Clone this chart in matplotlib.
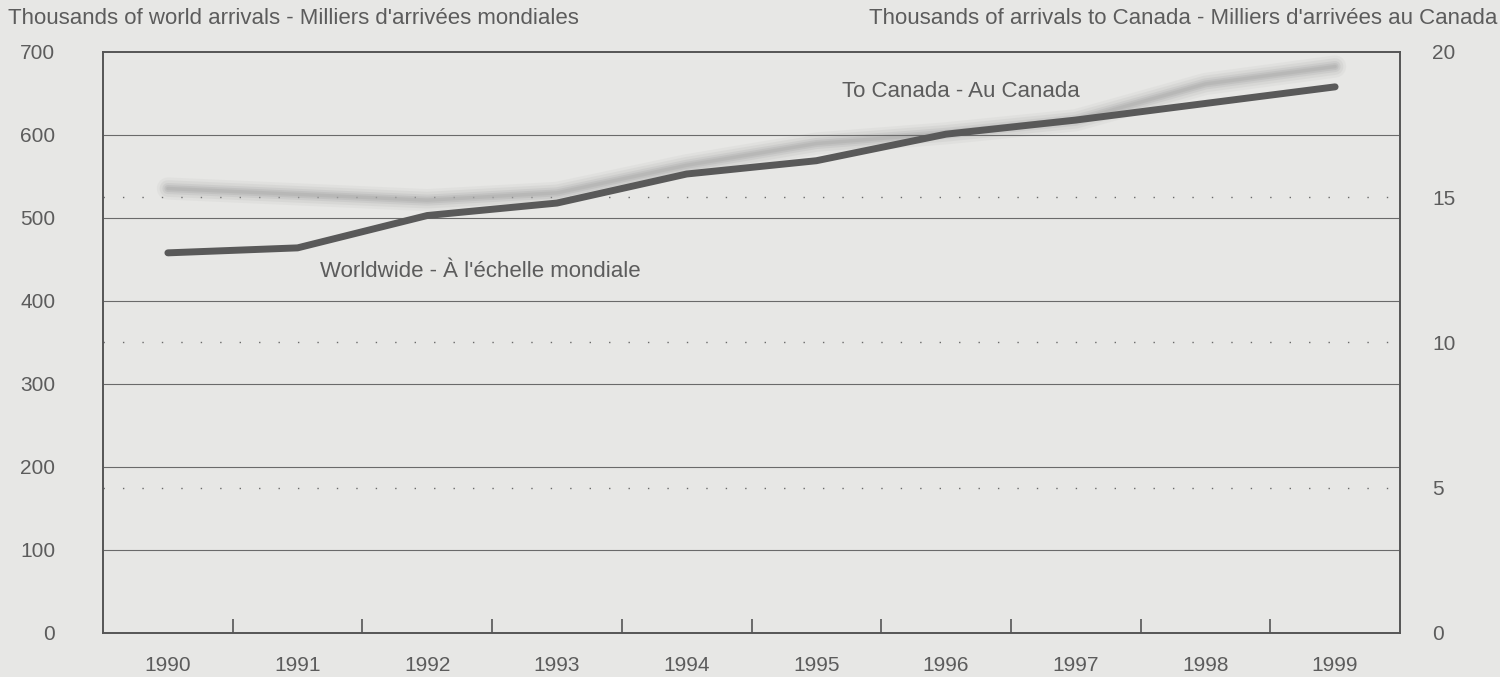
import matplotlib
matplotlib.use("Agg")
import matplotlib.pyplot as plt
import numpy as np

years = ["1990", "1991", "1992", "1993", "1994", "1995", "1996", "1997", "1998", "1999"]
world_arrivals = [458, 464, 503, 518, 553, 569, 601, 618, 638, 658]
canada_arrivals = [15.3, 15.1, 14.9, 15.15, 16.1, 16.85, 17.2, 17.65, 18.9, 19.5]

left_label = "Thousands of world arrivals - Milliers d'arrivées mondiales"
right_label = "Thousands of arrivals to Canada - Milliers d'arrivées au Canada"
world_name = "Worldwide - À l'échelle mondiale"
canada_name = "To Canada - Au Canada"

BG = "#e7e7e5"
TXT = "#5c5c5c"
TICK_FS = 15
TEXT_FS = 16
plt.rcParams["font.family"] = ["Liberation Sans", "DejaVu Sans"]

fig = plt.figure(figsize=(15, 6.77), dpi=100, facecolor=BG)
ax = fig.add_axes([0.0687, 0.065, 0.8646, 0.8582])
ax2 = ax.twinx()
ax.set_zorder(ax2.get_zorder() + 1)
ax.patch.set_visible(False)
ax2.patch.set_facecolor(BG)

x = np.arange(len(years))
ax.set_xlim(-0.5, len(years) - 0.5)
ax.set_ylim(0, 700)
ax2.set_ylim(0, 20)

# gridlines
ax.set_yticks(np.arange(0, 701, 100))
ax.set_yticklabels([str(v) for v in range(0, 701, 100)])
for v in range(100, 700, 100):
    ax.axhline(v, color="#6a6a6a", lw=0.8, zorder=1)
ax2.set_yticks([0, 5, 10, 15, 20])
ax2.set_yticklabels(["0", "5", "10", "15", "20"])
for v in [5, 10, 15]:
    ax2.axhline(v, color="#6a6a6a", lw=1.0, linestyle=(0, (1, 13)), zorder=1)

# light blurred Canada line
for w, a in [(16, 0.10), (12, 0.15), (8, 0.22), (5, 0.3), (2.5, 0.35)]:
    ax2.plot(x, canada_arrivals, color="#a8a8a8", lw=w, alpha=a,
             solid_capstyle="round", solid_joinstyle="round", zorder=2)

# dark world line
ax.plot(x, world_arrivals, color="#595959", lw=5,
        solid_capstyle="round", solid_joinstyle="round", zorder=3)

# axes styling
for a_ in (ax, ax2):
    for s in a_.spines.values():
        s.set_color("#555555")
        s.set_linewidth(1.2)
ax.set_xticks(x)
ax.set_xticklabels(years)
ax.set_xticks(np.arange(0.5, len(years) - 1, 1.0), minor=True)
ax.tick_params(axis="x", which="major", length=0, pad=16.5, labelsize=TICK_FS, labelcolor=TXT)
ax.tick_params(axis="x", which="minor", direction="in", length=10, width=1.2, color="#555555")
ax.tick_params(axis="y", length=0, pad=34.5, labelsize=TICK_FS, labelcolor=TXT)
ax2.tick_params(axis="y", length=0, pad=23, labelsize=TICK_FS, labelcolor=TXT)

fig.text(8 / 1500, 1 - 18 / 677, left_label, ha="left", va="center",
         fontsize=TEXT_FS, color=TXT)
fig.text(1497 / 1500, 1 - 18 / 677, right_label, ha="right", va="center",
         fontsize=TEXT_FS, color=TXT)

ax.text(5.2, 653, canada_name, ha="left", va="center", fontsize=TEXT_FS, color=TXT)
ax.text(1.17, 436, world_name, ha="left", va="center", fontsize=TEXT_FS, color=TXT)

fig.savefig("out.png", dpi=100, facecolor=BG)
